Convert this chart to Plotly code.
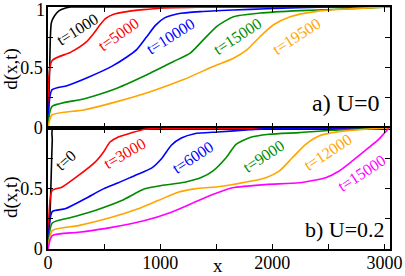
import plotly.graph_objects as go

# ---------------- data ----------------
# panel a) U=0
a_t1000_x = [0, 15, 30, 60, 100, 150, 200, 400, 3050]
a_t1000_y = [0, 0.5, 0.87, 0.93, 0.97, 0.99, 1.0, 1.0, 1.0]

a_t5000_x = [0, 35, 200, 340, 410, 466, 515, 585, 704, 852, 1000, 1500, 3050]
a_t5000_y = [0, 0.555, 0.625, 0.71, 0.785, 0.855, 0.905, 0.94, 0.962, 0.978, 0.99, 1.0, 1.0]

a_t10000_x = [0, 35, 169, 360, 560, 700, 793, 882, 960, 1040, 1160, 1360, 1650, 1950, 2500, 3050]
a_t10000_y = [0, 0.315, 0.35, 0.42, 0.505, 0.585, 0.65, 0.756, 0.85, 0.91, 0.945, 0.962, 0.975, 0.985, 1.0, 1.0]

a_t15000_x = [0, 35, 318, 615, 882, 1120, 1268, 1387, 1506, 1654, 1892, 2249, 2695, 3050]
a_t15000_y = [0, 0.177, 0.24, 0.329, 0.44, 0.55, 0.619, 0.73, 0.84, 0.92, 0.95, 0.97, 0.985, 1.0]

a_t19500_x = [0, 35, 318, 615, 912, 1209, 1476, 1654, 1773, 1892, 2011, 2160, 2397, 2695, 3050]
a_t19500_y = [0, 0.108, 0.149, 0.218, 0.30, 0.40, 0.51, 0.577, 0.646, 0.756, 0.853, 0.92, 0.964, 0.985, 1.0]

# panel b) U=0.2
b_t0_x = [0, 20, 29, 38, 45, 3050]
b_t0_y = [0, 0.34, 0.62, 0.9, 1.0, 1.0]

b_t3000_x = [0, 38, 124, 272, 420, 494, 553, 627, 745, 863, 1000, 3050]
b_t3000_y = [0, 0.485, 0.511, 0.608, 0.718, 0.80, 0.884, 0.926, 0.96, 0.99, 0.997, 1.0]

b_t6000_x = [0, 38, 153, 331, 494, 627, 775, 923, 1012, 1100, 1189, 1307, 1514, 1800, 2000, 3050]
b_t6000_y = [0, 0.309, 0.332, 0.415, 0.497, 0.547, 0.608, 0.668, 0.746, 0.857, 0.917, 0.953, 0.967, 0.985, 0.997, 1.0]

b_t9000_x = [0, 38, 213, 420, 657, 863, 1012, 1218, 1366, 1469, 1588, 1677, 1795, 1972, 2239, 2534, 3050]
b_t9000_y = [0, 0.215, 0.262, 0.318, 0.40, 0.497, 0.525, 0.552, 0.59, 0.643, 0.754, 0.865, 0.92, 0.948, 0.962, 0.981, 1.0]

b_t12000_x = [0, 38, 272, 568, 804, 981, 1159, 1307, 1514, 1647, 1943, 2061, 2179, 2298, 2416, 2593, 2830, 3050]
b_t12000_y = [0, 0.152, 0.193, 0.262, 0.332, 0.40, 0.469, 0.497, 0.515, 0.533, 0.589, 0.643, 0.754, 0.865, 0.934, 0.97, 0.99, 1.0]

b_t15000_x = [0, 38, 272, 568, 863, 1100, 1307, 1469, 1647, 1943, 2239, 2476, 2593, 2712, 2860, 2949, 3037]
b_t15000_y = [0, 0.11, 0.138, 0.179, 0.235, 0.304, 0.386, 0.45, 0.506, 0.533, 0.547, 0.589, 0.643, 0.726, 0.837, 0.906, 0.997]

colors = ["black", "rgb(255,0,0)", "rgb(0,0,255)", "rgb(0,139,0)", "rgb(255,165,0)", "rgb(255,0,255)"]

top_series = [(a_t1000_x, a_t1000_y), (a_t5000_x, a_t5000_y), (a_t10000_x, a_t10000_y),
              (a_t15000_x, a_t15000_y), (a_t19500_x, a_t19500_y)]
bot_series = [(b_t0_x, b_t0_y), (b_t3000_x, b_t3000_y), (b_t6000_x, b_t6000_y),
              (b_t9000_x, b_t9000_y), (b_t12000_x, b_t12000_y), (b_t15000_x, b_t15000_y)]

top_labels = ["t=1000", "t=5000", "t=10000", "t=15000", "t=19500"]
top_label_pos = [(261, 0.81, -32), (627, 0.77, -35), (1090, 0.754, -32), (1687, 0.754, -33), (2213, 0.754, -33)]
bot_labels = ["t=0", "t=3000", "t=6000", "t=9000", "t=12000", "t=15000"]
bot_label_pos = [(154, 0.732, -42), (680, 0.79, -30), (1288, 0.757, -33), (1919, 0.765, -33),
                 (2490, 0.80, -33), (2792, 0.624, -33)]

x_tickvals = [0, 500, 1000, 1500, 2000, 2500, 3000]
x_ticktext = ["0", "", "1000", "", "2000", "", "3000"]
y_tickvals = [0, 0.25, 0.5, 0.75, 1]
y_ticktext_top = ["0", "", "0.5", "", ""]
y_ticktext_bot = ["0", "", "0.5", "", ""]
top_y_label_one = "1"

FONT = "Liberation Serif"

fig = go.Figure()
for i, (xs, ys) in enumerate(top_series):
    fig.add_trace(go.Scatter(x=xs, y=ys, mode="lines", xaxis="x", yaxis="y",
                             line=dict(color=colors[i], width=1.6, shape="spline", smoothing=0.6),
                             showlegend=False, hoverinfo="skip"))
for i, (xs, ys) in enumerate(bot_series):
    fig.add_trace(go.Scatter(x=xs, y=ys, mode="lines", xaxis="x2", yaxis="y2",
                             line=dict(color=colors[i], width=1.6, shape="spline", smoothing=0.6),
                             showlegend=False, hoverinfo="skip"))

ann = []
for i, (lab, (x, y, ang)) in enumerate(zip(top_labels, top_label_pos)):
    ann.append(dict(text=lab, x=x, y=y, xref="x", yref="y", showarrow=False, textangle=ang,
                    font=dict(family=FONT, size=16, color=colors[i])))
for i, (lab, (x, y, ang)) in enumerate(zip(bot_labels, bot_label_pos)):
    ann.append(dict(text=lab, x=x, y=y, xref="x2", yref="y2", showarrow=False, textangle=ang,
                    font=dict(family=FONT, size=16, color=colors[i])))
ann.append(dict(text="a) U=0", x=2975, y=0.21, xref="x", yref="y", xanchor="right", yanchor="middle",
                showarrow=False, font=dict(family=FONT, size=24, color="black")))
ann.append(dict(text="b) U=0.2", x=3020, y=0.16, xref="x2", yref="y2", xanchor="right", yanchor="middle",
                showarrow=False, font=dict(family=FONT, size=22, color="black")))
ann.append(dict(text="d(x,t)", x=-0.108, y=0.49, xref="paper", yref="y", textangle=-90,
                xanchor="center", yanchor="middle",
                showarrow=False, font=dict(family=FONT, size=19, color="black")))
ann.append(dict(text="d(x,t)", x=-0.108, y=0.43, xref="paper", yref="y2", textangle=-90,
                xanchor="center", yanchor="middle",
                showarrow=False, font=dict(family=FONT, size=19, color="black")))
ann.append(dict(text="x", x=1518, y=-0.07, xref="x2", yref="paper", yanchor="middle",
                showarrow=False, font=dict(family=FONT, size=19, color="black")))
ann.append(dict(text=top_y_label_one, x=-0.006, y=1, xref="paper", yref="y", xanchor="right",
                yanchor="middle", yshift=-3, borderpad=0,
                showarrow=False, font=dict(family=FONT, size=18, color="black")))

axis_common = dict(showgrid=False, zeroline=False, showline=True, linecolor="black", linewidth=1.5,
                   mirror="ticks", ticks="inside", ticklen=5, tickwidth=1, tickcolor="black",
                   automargin=False,
                   tickfont=dict(family=FONT, size=18, color="black"))

fig.update_layout(
    width=405, height=276,
    margin=dict(l=48, r=15, t=7, b=27, autoexpand=False),
    plot_bgcolor="white", paper_bgcolor="white",
    xaxis=dict(axis_common, range=[0, 3050], tickvals=x_tickvals, ticktext=x_ticktext,
               showticklabels=False, anchor="y", domain=[0, 1]),
    yaxis=dict(axis_common, range=[0, 1], tickvals=y_tickvals, ticktext=y_ticktext_top,
               domain=[0.5, 1], anchor="x"),
    xaxis2=dict(axis_common, range=[0, 3050], tickvals=x_tickvals, ticktext=x_ticktext,
                anchor="y2", domain=[0, 1], ticklabelstandoff=-3),
    yaxis2=dict(axis_common, range=[0, 1], tickvals=y_tickvals, ticktext=y_ticktext_bot,
                domain=[0, 0.5], anchor="x2"),
    annotations=ann,
)

fig.write_html("out.html", config={"displayModeBar": False},
               post_script="document.body.style.margin='0';document.body.style.overflow='hidden';")
